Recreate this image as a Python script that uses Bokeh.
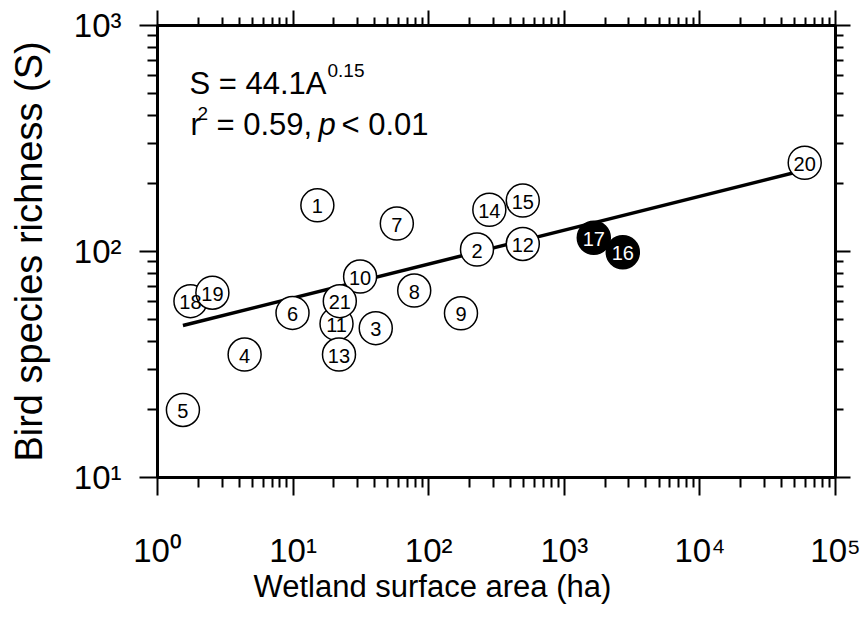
from bokeh.plotting import figure
from bokeh.models import ColumnDataSource, FixedTicker, LogAxis, Label, Title
from bokeh.core.properties import value
from bokeh.embed import file_html
from bokeh.resources import INLINE

# ---- data ----
site = ["1", "2", "3", "4", "5", "6", "7", "8", "9", "10", "11",
        "12", "13", "14", "15", "16", "17", "18", "19", "20", "21"]
area = [15.1, 227, 40.7, 4.39, 1.54, 9.9, 58.2, 78.2, 173, 31.2, 20.9,
        494, 21.8, 280, 494, 2700, 1650, 1.75, 2.54, 59300, 22.1]
richness = [160, 102, 45.8, 35.0, 19.9, 53.5, 133, 67.2, 53.3, 77.5, 47.9,
            108, 35.0, 153, 168, 99.3, 115, 60.3, 65.7, 247, 60.3]
highlighted = ["16", "17"]

fit_coef = 44.1
fit_exp = 0.15

x_exponents = [0, 1, 2, 3, 4, 5]
y_exponents = [1, 2, 3]
SUP = {0: "\u2070", 1: "\u00b9", 2: "\u00b2", 3: "\u00b3", 4: "\u2074", 5: "\u2075"}

FONT = "Liberation Sans"

fill = ["black" if s in highlighted else "white" for s in site]
tcol = ["white" if s in highlighted else "black" for s in site]
src = ColumnDataSource(dict(area=area, rich=richness, site=site, fill=fill, tcol=tcol))

fit_x = [min(area), max(area)]
fit_y = [fit_coef * a ** fit_exp for a in fit_x]

x_major = [10 ** e for e in x_exponents]
y_major = [10 ** e for e in y_exponents]
x_minor = [m * 10 ** e for e in x_exponents[:-1] for m in range(2, 10)]
y_minor = [m * 10 ** e for e in y_exponents[:-1] for m in range(2, 10)]
x_labels = {10 ** e: "10" + SUP[e] for e in x_exponents}
y_labels = {10 ** e: "10" + SUP[e] for e in y_exponents}

p = figure(width=866, height=618, x_axis_type="log", y_axis_type="log",
           x_range=(x_major[0], x_major[-1]), y_range=(y_major[0], y_major[-1]),
           output_backend="svg", toolbar_location=None,
           min_border_left=157, min_border_right=31, min_border_top=25,
           min_border_bottom=141)
p.xgrid.visible = False
p.ygrid.visible = False
p.outline_line_color = "black"
p.outline_line_width = 3
p.background_fill_color = "white"
p.border_fill_color = "white"


def style_axis(ax, ticks, minor, tick_out=18, minor_out=10, labels=None, standoff=0):
    ax.ticker = FixedTicker(ticks=ticks, minor_ticks=minor)
    ax.axis_line_width = 3
    ax.axis_line_color = "black"
    ax.major_tick_line_width = 2
    ax.minor_tick_line_width = 2
    ax.major_tick_in = 0
    ax.minor_tick_in = 0
    ax.major_tick_out = tick_out
    ax.minor_tick_out = minor_out
    if labels is None:
        ax.major_label_text_font_size = "1px"
        ax.major_label_text_color = None
        ax.major_label_standoff = 0
    else:
        ax.major_label_overrides = labels
        ax.major_label_text_font = FONT
        ax.major_label_text_font_size = "33px"
        ax.major_label_text_color = "black"
        ax.major_label_standoff = standoff


style_axis(p.xaxis[0], x_major, x_minor, labels=x_labels, standoff=36)
style_axis(p.yaxis[0], y_major, y_minor, labels=y_labels, standoff=18)

p.yaxis.axis_label = "Bird species richness (S)"
p.yaxis.axis_label_text_font = FONT
p.yaxis.axis_label_text_font_size = "38px"
p.yaxis.axis_label_text_font_style = "normal"
p.yaxis.axis_label_text_color = "black"
p.yaxis.axis_label_standoff = 21

# x-axis title (left-shifted like the reference)
p.add_layout(Title(text="Wetland surface area (ha)", align="left", offset=96,
                   standoff=-10, text_font=FONT, text_font_size="31px",
                   text_font_style="normal", text_color="black"), "below")

top_ax = LogAxis()
style_axis(top_ax, x_major, x_minor, tick_out=15, minor_out=8)
p.add_layout(top_ax, "above")
right_ax = LogAxis()
style_axis(right_ax, y_major, y_minor, tick_out=15, minor_out=8)
p.add_layout(right_ax, "right")

# regression line
p.line(fit_x, fit_y, line_color="black", line_width=3.5)

# site circles and numbers
p.scatter(x="area", y="rich", source=src, size=33, marker="circle",
          fill_color="fill", line_color="black", line_width=1.5)
p.text(x="area", y="rich", text="site", source=src, text_align="center",
       text_baseline="middle", text_font=value(FONT), text_font_size="20px",
       text_color="tcol", y_offset=1)

# equation annotation
X0, Y0 = x_major[0], y_major[-1]
eq = [
    ("S = 44.1A", 32, -58, "31px", "normal"),
    ("0.15", 170, -45, "19px", "normal"),
    ("r", 33, -99, "31px", "normal"),
    ("2", 40, -88, "19px", "normal"),
    ("= 0.59,", 59, -99, "31px", "normal"),
    ("p", 161, -99, "31px", "italic"),
    ("< 0.01", 184, -99, "31px", "normal"),
]
for t, xo, yo, fs, st in eq:
    p.add_layout(Label(x=X0, y=Y0, text=t, x_offset=xo, y_offset=yo,
                       text_align="left", text_baseline="alphabetic",
                       text_font=FONT, text_font_size=fs, text_font_style=st,
                       text_color="black"))

open("out.html", "w").write(file_html(p, INLINE))
